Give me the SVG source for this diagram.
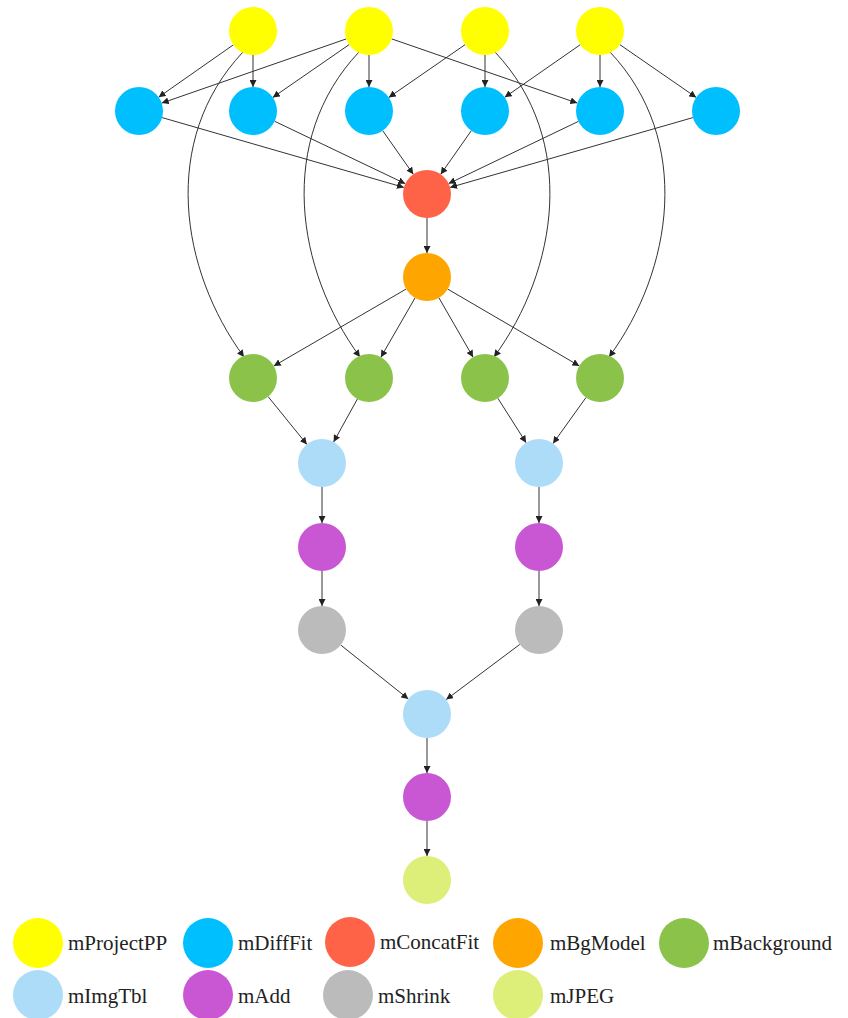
<svg xmlns="http://www.w3.org/2000/svg" width="848" height="1018" viewBox="0 0 848 1018">
<style>
.e{fill:none;stroke:#333;stroke-width:1;marker-end:url(#arr)}
.n{stroke:none}
.pp{fill:#FFFF00}.df{fill:#00BFFF}.cf{fill:#FF6347}.bm{fill:#FFA500}.bg{fill:#8BC34A}
.it{fill:#ADDCF8}.ad{fill:#C957D4}.sh{fill:#BBBBBB}.jp{fill:#DDEF78}
.t{font-family:"Liberation Serif","Times New Roman",serif;font-size:21px;fill:#222}
</style>
<defs>
<marker id="arr" viewBox="0 0 10 10" refX="10" refY="5" markerWidth="7" markerHeight="7" markerUnits="userSpaceOnUse" orient="auto">
<path d="M0,0 L10,5 L0,10 z" fill="#222"/>
</marker>
</defs>
<rect width="848" height="1018" fill="#fff"/>
<g id="connectors">
<line class="e" x1="233.4" y1="44.8" x2="158.6" y2="97.2"/>
<line class="e" x1="253" y1="55" x2="253" y2="87"/>
<line class="e" x1="346.3" y1="38.9" x2="161.7" y2="103.1"/>
<line class="e" x1="349.2" y1="44.6" x2="272.8" y2="97.4"/>
<line class="e" x1="369" y1="55" x2="369" y2="87"/>
<line class="e" x1="391.7" y1="38.9" x2="577.3" y2="103.1"/>
<line class="e" x1="465.2" y1="44.6" x2="388.8" y2="97.4"/>
<line class="e" x1="485" y1="55" x2="485" y2="87"/>
<line class="e" x1="580.3" y1="44.7" x2="504.7" y2="97.3"/>
<line class="e" x1="600" y1="55" x2="600" y2="87"/>
<line class="e" x1="619.8" y1="44.6" x2="696.2" y2="97.4"/>
<path class="e" d="M243,52 C160,140 180,270 244,357"/>
<path class="e" d="M359,52 C276,140 296,270 360,357"/>
<path class="e" d="M495,52 C578,140 558,270 494,357"/>
<path class="e" d="M610,52 C693,140 673,270 609,357"/>
<line class="e" x1="162.1" y1="117.6" x2="403.9" y2="187.4"/>
<line class="e" x1="274.7" y1="121.3" x2="405.3" y2="183.7"/>
<line class="e" x1="382.7" y1="130.7" x2="413.3" y2="174.3"/>
<line class="e" x1="471.3" y1="130.7" x2="440.7" y2="174.3"/>
<line class="e" x1="578.4" y1="121.4" x2="448.6" y2="183.6"/>
<line class="e" x1="692.9" y1="117.6" x2="450.1" y2="187.4"/>
<line class="e" x1="427" y1="218" x2="427" y2="253"/>
<line class="e" x1="406.2" y1="289" x2="273.8" y2="366"/>
<line class="e" x1="415.1" y1="297.8" x2="380.9" y2="357.2"/>
<line class="e" x1="438.9" y1="297.8" x2="473.1" y2="357.2"/>
<line class="e" x1="447.7" y1="289.1" x2="579.3" y2="365.9"/>
<line class="e" x1="268.1" y1="396.6" x2="306.9" y2="444.4"/>
<line class="e" x1="357.4" y1="399" x2="333.6" y2="442"/>
<line class="e" x1="497.9" y1="398.3" x2="526.1" y2="442.7"/>
<line class="e" x1="586" y1="397.5" x2="553" y2="443.5"/>
<line class="e" x1="322" y1="487" x2="322" y2="523"/>
<line class="e" x1="322" y1="571" x2="322" y2="606"/>
<line class="e" x1="539" y1="487" x2="539" y2="523"/>
<line class="e" x1="539" y1="571" x2="539" y2="606"/>
<line class="e" x1="340.7" y1="645" x2="408.3" y2="699"/>
<line class="e" x1="519.8" y1="644.4" x2="446.2" y2="699.6"/>
<line class="e" x1="427" y1="738" x2="427" y2="773"/>
<line class="e" x1="427" y1="821" x2="427" y2="856"/>
</g>
<g id="pp1"><circle class="n pp" cx="253" cy="31" r="24"/></g>
<g id="pp2"><circle class="n pp" cx="369" cy="31" r="24"/></g>
<g id="pp3"><circle class="n pp" cx="485" cy="31" r="24"/></g>
<g id="pp4"><circle class="n pp" cx="600" cy="31" r="24"/></g>
<g id="df1"><circle class="n df" cx="139" cy="111" r="24"/></g>
<g id="df2"><circle class="n df" cx="253" cy="111" r="24"/></g>
<g id="df3"><circle class="n df" cx="369" cy="111" r="24"/></g>
<g id="df4"><circle class="n df" cx="485" cy="111" r="24"/></g>
<g id="df5"><circle class="n df" cx="600" cy="111" r="24"/></g>
<g id="df6"><circle class="n df" cx="716" cy="111" r="24"/></g>
<g id="cf"><circle class="n cf" cx="427" cy="194" r="24"/></g>
<g id="bm"><circle class="n bm" cx="427" cy="277" r="24"/></g>
<g id="bg1"><circle class="n bg" cx="253" cy="378" r="24"/></g>
<g id="bg2"><circle class="n bg" cx="369" cy="378" r="24"/></g>
<g id="bg3"><circle class="n bg" cx="485" cy="378" r="24"/></g>
<g id="bg4"><circle class="n bg" cx="600" cy="378" r="24"/></g>
<g id="it1"><circle class="n it" cx="322" cy="463" r="24"/></g>
<g id="it2"><circle class="n it" cx="539" cy="463" r="24"/></g>
<g id="ad1"><circle class="n ad" cx="322" cy="547" r="24"/></g>
<g id="ad2"><circle class="n ad" cx="539" cy="547" r="24"/></g>
<g id="sh1"><circle class="n sh" cx="322" cy="630" r="24"/></g>
<g id="sh2"><circle class="n sh" cx="539" cy="630" r="24"/></g>
<g id="it3"><circle class="n it" cx="427" cy="714" r="24"/></g>
<g id="ad3"><circle class="n ad" cx="427" cy="797" r="24"/></g>
<g id="jp"><circle class="n jp" cx="427" cy="880" r="24"/></g>
<g id="legend">
<g id="lg-pp"><circle class="n pp" cx="38" cy="943" r="25"/><text class="t" x="68" y="950">mProjectPP</text></g>
<g id="lg-df"><circle class="n df" cx="208" cy="943" r="25"/><text class="t" x="238" y="950">mDiffFit</text></g>
<g id="lg-cf"><circle class="n cf" cx="350" cy="942" r="25"/><text class="t" x="380" y="949">mConcatFit</text></g>
<g id="lg-bm"><circle class="n bm" cx="518" cy="943" r="25"/><text class="t" x="550" y="950">mBgModel</text></g>
<g id="lg-bg"><circle class="n bg" cx="684" cy="943" r="25"/><text class="t" x="713" y="950">mBackground</text></g>
<g id="lg-it"><circle class="n it" cx="38" cy="995" r="25"/><text class="t" x="68" y="1003">mImgTbl</text></g>
<g id="lg-ad"><circle class="n ad" cx="208" cy="995" r="25"/><text class="t" x="238" y="1003">mAdd</text></g>
<g id="lg-sh"><circle class="n sh" cx="348" cy="995" r="25"/><text class="t" x="378" y="1003">mShrink</text></g>
<g id="lg-jp"><circle class="n jp" cx="518" cy="995" r="25"/><text class="t" x="550" y="1003">mJPEG</text></g>
</g>
</svg>
